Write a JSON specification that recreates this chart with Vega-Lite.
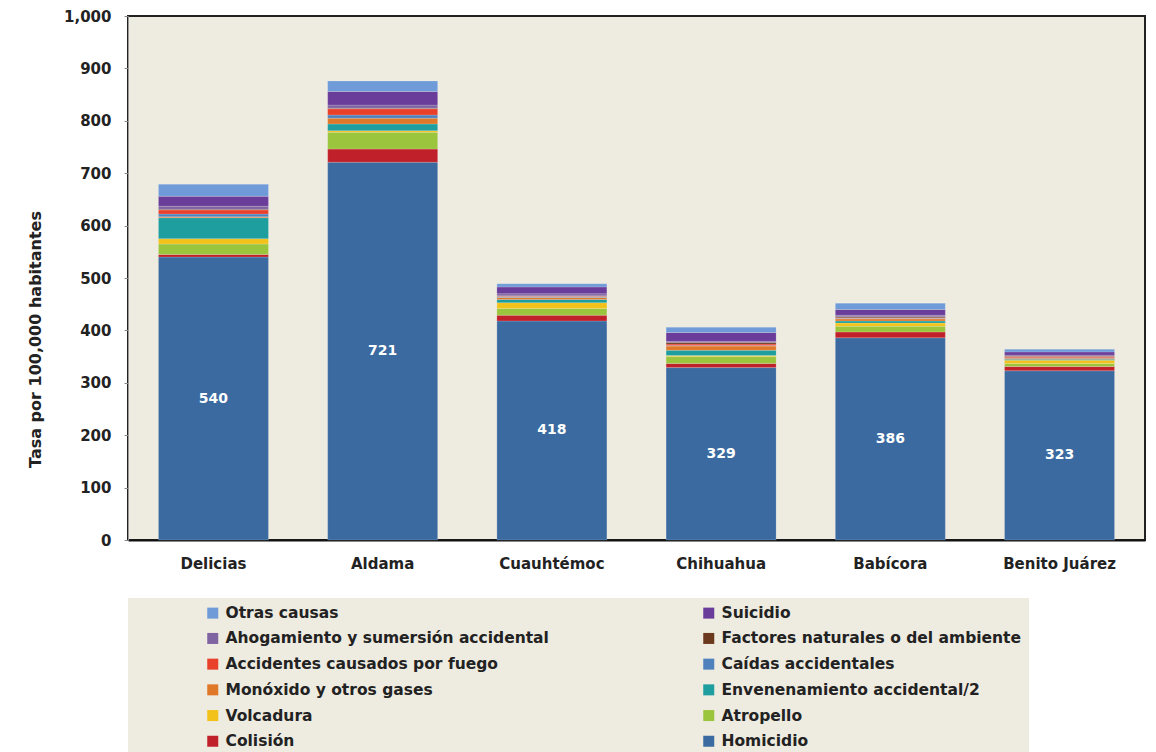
{
  "$schema": "https://vega.github.io/schema/vega-lite/v6.json",
  "autosize": {"type": "none"},
  "padding": {"left": 128, "top": 16, "right": 11, "bottom": 212},
  "width": 1017,
  "height": 524,
  "background": "#ffffff",
  "config": {
    "view": {"fill": "#EEEBE0", "stroke": "#222222", "strokeWidth": 2},
    "font": "DejaVu Sans"
  },
  "data": {
    "values": [
      {"m": "Delicias", "c": "Homicidio", "v": 540},
      {"m": "Delicias", "c": "Colisión", "v": 5},
      {"m": "Delicias", "c": "Atropello", "v": 20},
      {"m": "Delicias", "c": "Volcadura", "v": 10},
      {"m": "Delicias", "c": "Envenenamiento accidental", "v": 40},
      {"m": "Delicias", "c": "Monóxido y otros gases", "v": 2},
      {"m": "Delicias", "c": "Caídas accidentales", "v": 5},
      {"m": "Delicias", "c": "Accidentes causados por fuego", "v": 8},
      {"m": "Delicias", "c": "Factores naturales o del ambiente", "v": 1},
      {"m": "Delicias", "c": "Ahogamiento y sumersión accidental", "v": 6},
      {"m": "Delicias", "c": "Suicidio", "v": 19},
      {"m": "Delicias", "c": "Otras causas", "v": 23},
      {"m": "Aldama", "c": "Homicidio", "v": 721},
      {"m": "Aldama", "c": "Colisión", "v": 25},
      {"m": "Aldama", "c": "Atropello", "v": 32},
      {"m": "Aldama", "c": "Volcadura", "v": 3},
      {"m": "Aldama", "c": "Envenenamiento accidental", "v": 13},
      {"m": "Aldama", "c": "Monóxido y otros gases", "v": 11},
      {"m": "Aldama", "c": "Caídas accidentales", "v": 6},
      {"m": "Aldama", "c": "Accidentes causados por fuego", "v": 12},
      {"m": "Aldama", "c": "Factores naturales o del ambiente", "v": 1},
      {"m": "Aldama", "c": "Ahogamiento y sumersión accidental", "v": 6},
      {"m": "Aldama", "c": "Suicidio", "v": 26},
      {"m": "Aldama", "c": "Otras causas", "v": 20},
      {"m": "Cuauhtémoc", "c": "Homicidio", "v": 418},
      {"m": "Cuauhtémoc", "c": "Colisión", "v": 11},
      {"m": "Cuauhtémoc", "c": "Atropello", "v": 13},
      {"m": "Cuauhtémoc", "c": "Volcadura", "v": 11},
      {"m": "Cuauhtémoc", "c": "Envenenamiento accidental", "v": 6},
      {"m": "Cuauhtémoc", "c": "Monóxido y otros gases", "v": 4},
      {"m": "Cuauhtémoc", "c": "Caídas accidentales", "v": 1},
      {"m": "Cuauhtémoc", "c": "Accidentes causados por fuego", "v": 1},
      {"m": "Cuauhtémoc", "c": "Factores naturales o del ambiente", "v": 1},
      {"m": "Cuauhtémoc", "c": "Ahogamiento y sumersión accidental", "v": 4},
      {"m": "Cuauhtémoc", "c": "Suicidio", "v": 13},
      {"m": "Cuauhtémoc", "c": "Otras causas", "v": 6},
      {"m": "Chihuahua", "c": "Homicidio", "v": 329},
      {"m": "Chihuahua", "c": "Colisión", "v": 8},
      {"m": "Chihuahua", "c": "Atropello", "v": 13},
      {"m": "Chihuahua", "c": "Volcadura", "v": 2},
      {"m": "Chihuahua", "c": "Envenenamiento accidental", "v": 10},
      {"m": "Chihuahua", "c": "Monóxido y otros gases", "v": 8},
      {"m": "Chihuahua", "c": "Caídas accidentales", "v": 1},
      {"m": "Chihuahua", "c": "Accidentes causados por fuego", "v": 3},
      {"m": "Chihuahua", "c": "Factores naturales o del ambiente", "v": 3},
      {"m": "Chihuahua", "c": "Ahogamiento y sumersión accidental", "v": 2},
      {"m": "Chihuahua", "c": "Suicidio", "v": 17},
      {"m": "Chihuahua", "c": "Otras causas", "v": 10},
      {"m": "Babícora", "c": "Homicidio", "v": 386},
      {"m": "Babícora", "c": "Colisión", "v": 11},
      {"m": "Babícora", "c": "Atropello", "v": 11},
      {"m": "Babícora", "c": "Volcadura", "v": 6},
      {"m": "Babícora", "c": "Envenenamiento accidental", "v": 4},
      {"m": "Babícora", "c": "Monóxido y otros gases", "v": 4},
      {"m": "Babícora", "c": "Caídas accidentales", "v": 1},
      {"m": "Babícora", "c": "Accidentes causados por fuego", "v": 1},
      {"m": "Babícora", "c": "Factores naturales o del ambiente", "v": 2},
      {"m": "Babícora", "c": "Ahogamiento y sumersión accidental", "v": 3},
      {"m": "Babícora", "c": "Suicidio", "v": 11},
      {"m": "Babícora", "c": "Otras causas", "v": 12},
      {"m": "Benito Juárez", "c": "Homicidio", "v": 323},
      {"m": "Benito Juárez", "c": "Colisión", "v": 8},
      {"m": "Benito Juárez", "c": "Atropello", "v": 6},
      {"m": "Benito Juárez", "c": "Volcadura", "v": 6},
      {"m": "Benito Juárez", "c": "Envenenamiento accidental", "v": 2},
      {"m": "Benito Juárez", "c": "Monóxido y otros gases", "v": 2},
      {"m": "Benito Juárez", "c": "Caídas accidentales", "v": 1},
      {"m": "Benito Juárez", "c": "Accidentes causados por fuego", "v": 2},
      {"m": "Benito Juárez", "c": "Factores naturales o del ambiente", "v": 1},
      {"m": "Benito Juárez", "c": "Ahogamiento y sumersión accidental", "v": 2},
      {"m": "Benito Juárez", "c": "Suicidio", "v": 6},
      {"m": "Benito Juárez", "c": "Otras causas", "v": 5}
    ]
  },
  "encoding": {
    "x": {
      "field": "m", "type": "nominal", "sort": null,
      "scale": {"paddingInner": 0.35, "paddingOuter": 0.18},
      "axis": {
        "title": null, "labelAngle": 0, "ticks": false, "labelPadding": 16,
        "labelFont": "DejaVu Sans", "labelFontWeight": "bold", "labelFontSize": 15,
        "labelColor": "#222222", "domainColor": "#111111", "domainWidth": 2
      }
    }
  },
  "layer": [
    {
      "transform": [
        {"calculate": "indexof(['Homicidio','Colisión','Atropello','Volcadura','Envenenamiento accidental','Monóxido y otros gases','Caídas accidentales','Accidentes causados por fuego','Factores naturales o del ambiente','Ahogamiento y sumersión accidental','Suicidio','Otras causas'], datum.c)", "as": "o"}
      ],
      "mark": {"type": "bar", "stroke": "#ffffff", "strokeOpacity": 0.35, "strokeWidth": 0.5},
      "encoding": {
        "y": {
          "field": "v", "type": "quantitative", "stack": "zero",
          "scale": {"domain": [0, 1000]},
          "axis": {
            "title": "Tasa  por 100,000 habitantes", "titleFont": "DejaVu Sans",
            "titleFontWeight": "bold", "titleFontSize": 16, "titleColor": "#222222",
            "titleX": -93, "titleY": 323, "titleAngle": -90, "titleAlign": "center", "titleBaseline": "middle",
            "values": [0, 100, 200, 300, 400, 500, 600, 700, 800, 900, 1000],
            "format": ",d", "grid": false, "tickSize": 4, "tickColor": "#888888",
            "labelPadding": 13, "labelFont": "DejaVu Sans", "labelFontWeight": "bold",
            "labelFontSize": 15, "labelColor": "#222222", "domainColor": "#999999"
          }
        },
        "color": {
          "field": "c", "type": "nominal",
          "scale": {
            "domain": ["Otras causas", "Ahogamiento y sumersión accidental", "Accidentes causados por fuego", "Monóxido y otros gases", "Volcadura", "Colisión", "Suicidio", "Factores naturales o del ambiente", "Caídas accidentales", "Envenenamiento accidental", "Atropello", "Homicidio"],
            "range": ["#6F9BD8", "#8064A2", "#E8402A", "#E0782A", "#F2C21A", "#C0202A", "#6A3D9A", "#6B3A1E", "#4F81BD", "#1E9E9E", "#9BC53D", "#3A6AA0"]
          },
          "legend": {
            "orient": "none", "legendX": 0, "legendY": 582, "columns": 2,
            "title": null, "fillColor": "#EEEBE0", "padding": 7,
            "gridAlign": "all", "columnPadding": 82, "rowPadding": 8.7,
            "symbolType": "square", "symbolSize": 121, "symbolStrokeWidth": 0, "symbolOffset": 70,
            "labelOffset": 5, "labelFont": "DejaVu Sans", "labelFontWeight": "bold",
            "labelFontSize": 15.5, "labelColor": "#222222", "labelLimit": 500,
            "labelExpr": "datum.label == 'Envenenamiento accidental' ? '  Envenenamiento accidental/2' : datum.label"
          }
        },
        "order": {"field": "o", "type": "quantitative"}
      }
    },
    {
      "transform": [
        {"filter": "datum.c == 'Homicidio'"},
        {"calculate": "datum.v / 2", "as": "mid"}
      ],
      "mark": {"type": "text", "color": "#ffffff", "font": "DejaVu Sans", "fontWeight": "bold", "fontSize": 14},
      "encoding": {
        "y": {"field": "mid", "type": "quantitative"},
        "text": {"field": "v", "type": "quantitative"}
      }
    }
  ]
}
